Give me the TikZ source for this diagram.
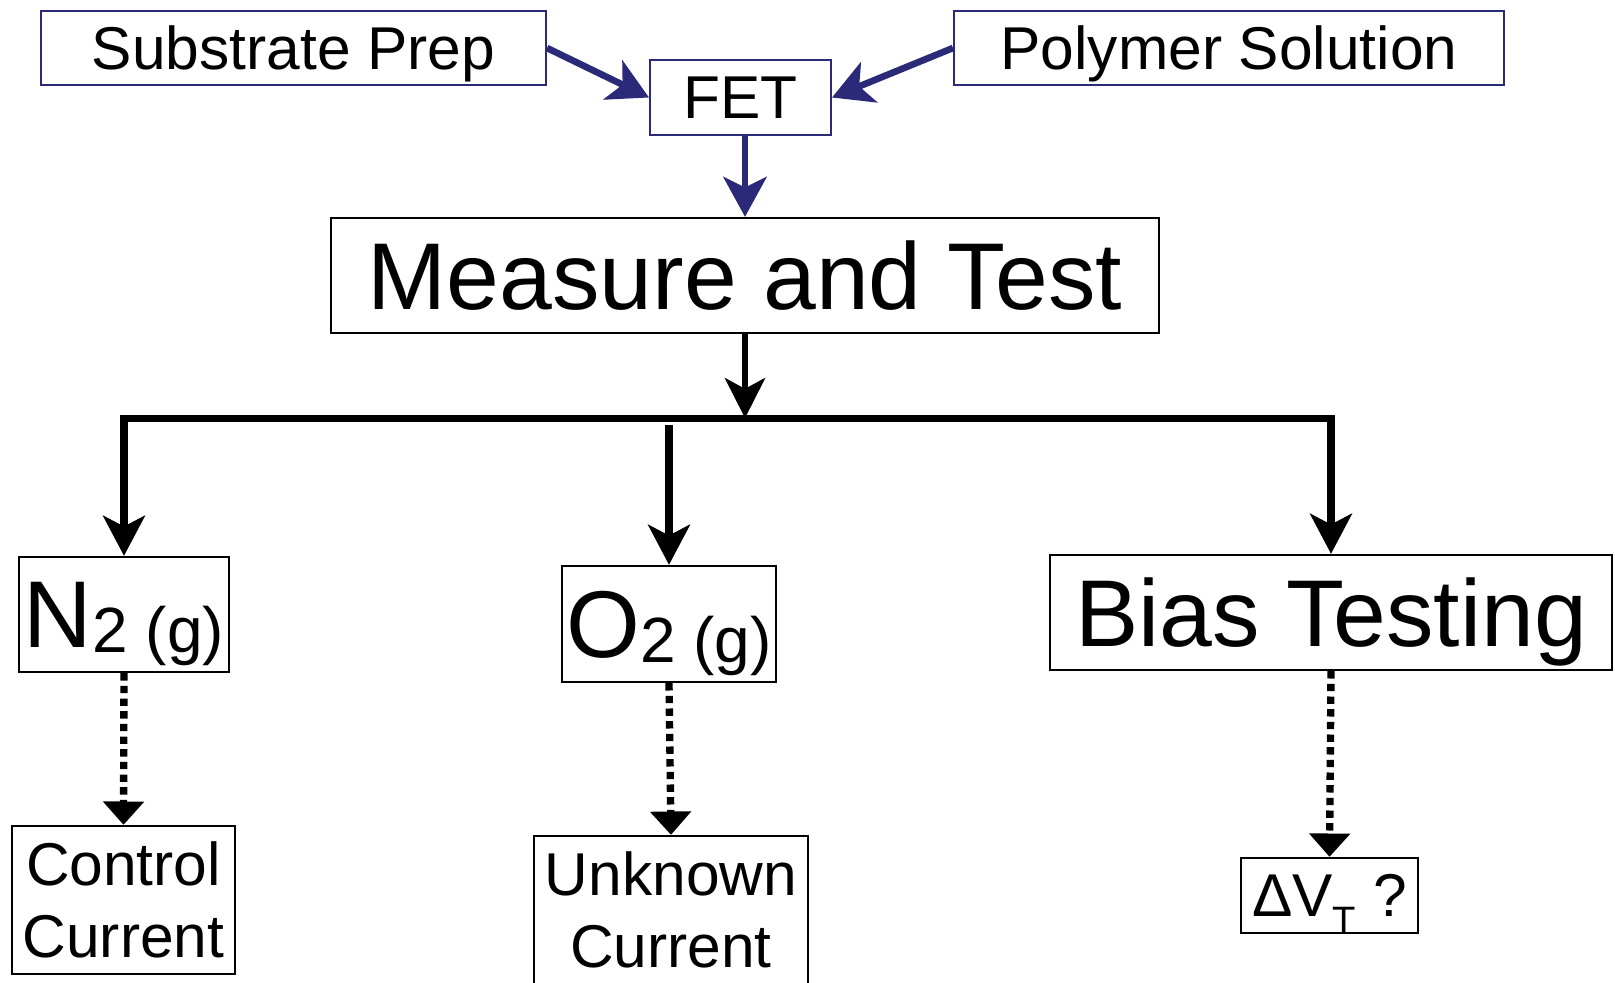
\documentclass[tikz,border=0pt]{standalone}
\usepackage{fontspec}
\setmainfont{Liberation Sans}
\usepackage{tikz}
\usetikzlibrary{arrows.meta, positioning, calc}
\definecolor{prepNavy}{HTML}{2A2A78}
\tikzset{
    bTip/.tip={Stealth[length=1.2cm, width=1.25cm, inset=0.32cm]},
    prepArrow/.style={-{Stealth[length=1.2cm, width=1.3cm, inset=0.32cm]}, line width=0.2cm, prepNavy},
    testArrow/.style={-{Stealth[length=1.2cm, width=1.2cm, inset=0.32cm]}, line width=0.2cm, black},
    branchLine/.style={line width=0.22cm, black},
    resultLine/.style={-{Triangle[length=0.7cm, width=1.2cm]}, line width=0.22cm, dash pattern=on 0.22cm off 0.16cm, black},
}

\begin{document}
\begin{tikzpicture}[
        prep/.style={
            rectangle, draw=prepNavy, line width=0.06cm, fill=white,
            text=black, inner sep=0pt, text depth=0pt,
            minimum height=2.22cm, font=\fontsize{51.6}{61.5}\selectfont
        },
        stage/.style={
            rectangle, draw=black, line width=0.07cm, fill=white,
            text=black, inner sep=0pt, text depth=0pt,
            minimum height=3.45cm, font=\fontsize{81}{96}\selectfont
        },
        result/.style={
            rectangle, draw=black, line width=0.07cm, fill=white,
            text=black, inner sep=0pt, align=center,
            font=\fontsize{51.6}{61.5}\selectfont
        },
    ]
    \useasboundingbox (0,0) rectangle (48.45,-29.46);

    % ---- Preparation ----
    \node[prep, minimum width=15.15cm] (sub) at (8.805, -1.44) {Substrate Prep};
    \node[prep, minimum width=5.43cm, minimum height=2.25cm] (fet) at (22.215, -2.925) {FET};
    \node[prep, minimum width=16.5cm] (poly) at (36.87, -1.44) {Polymer Solution};

    % Measurement
    \node[stage, minimum width=24.84cm] (meas) at (22.35, -8.265) {Measure and Test};
    \coordinate[below=2.52cm of meas.south] (split);

    % ---- Test conditions ----
    \node[stage, minimum width=6.3cm] (n2) at (3.72, -18.435)
        {N\raisebox{-0.15cm}{\fontsize{54.6}{60}\selectfont 2 (g)}};
    \node[stage, minimum width=6.42cm, minimum height=3.48cm] (o2) at (20.07, -18.72)
        {O\raisebox{-0.15cm}{\fontsize{54.6}{60}\selectfont 2 (g)}};
    \node[stage, minimum width=16.86cm] (bias) at (39.93, -18.375) {Bias Testing};

    % ---- Results ----
    \node[result, minimum width=6.69cm, minimum height=4.44cm] (ctrl) at (3.705, -27.0) {Control\\Current};
    \node[result, minimum width=8.22cm, minimum height=4.44cm] (unk) at (20.13, -27.3) {Unknown\\Current};
    \node[result, minimum width=5.31cm, minimum height=2.25cm, text depth=0pt] (dvt) at (39.885, -26.865)
        {ΔV\raisebox{-0.5cm}{\fontsize{32.6}{33}\selectfont T} ?};

    % ---- Edges: preparation ----
    \draw[prepArrow] (sub.east) -- (fet.west);
    \draw[prepArrow] (poly.west) -- (fet.east);
    \draw[prepArrow] (meas.north |- fet.south) -- (meas.north);

    % ---- Edges: branches ----
    \draw[testArrow] (meas.south) -- (split);
    \draw[branchLine, bTip-bTip] (n2.north) |- (split) -| (bias.north);
    \draw[branchLine, -bTip] ($(o2.north |- split)+(0,-0.2)$) -- (o2.north);

    % Dotted to results
    \draw[resultLine] (n2.south) -- (ctrl.north);
    \draw[resultLine] (o2.south) -- (unk.north);
    \draw[resultLine] (bias.south) -- (dvt.north);

\end{tikzpicture}
\end{document}
